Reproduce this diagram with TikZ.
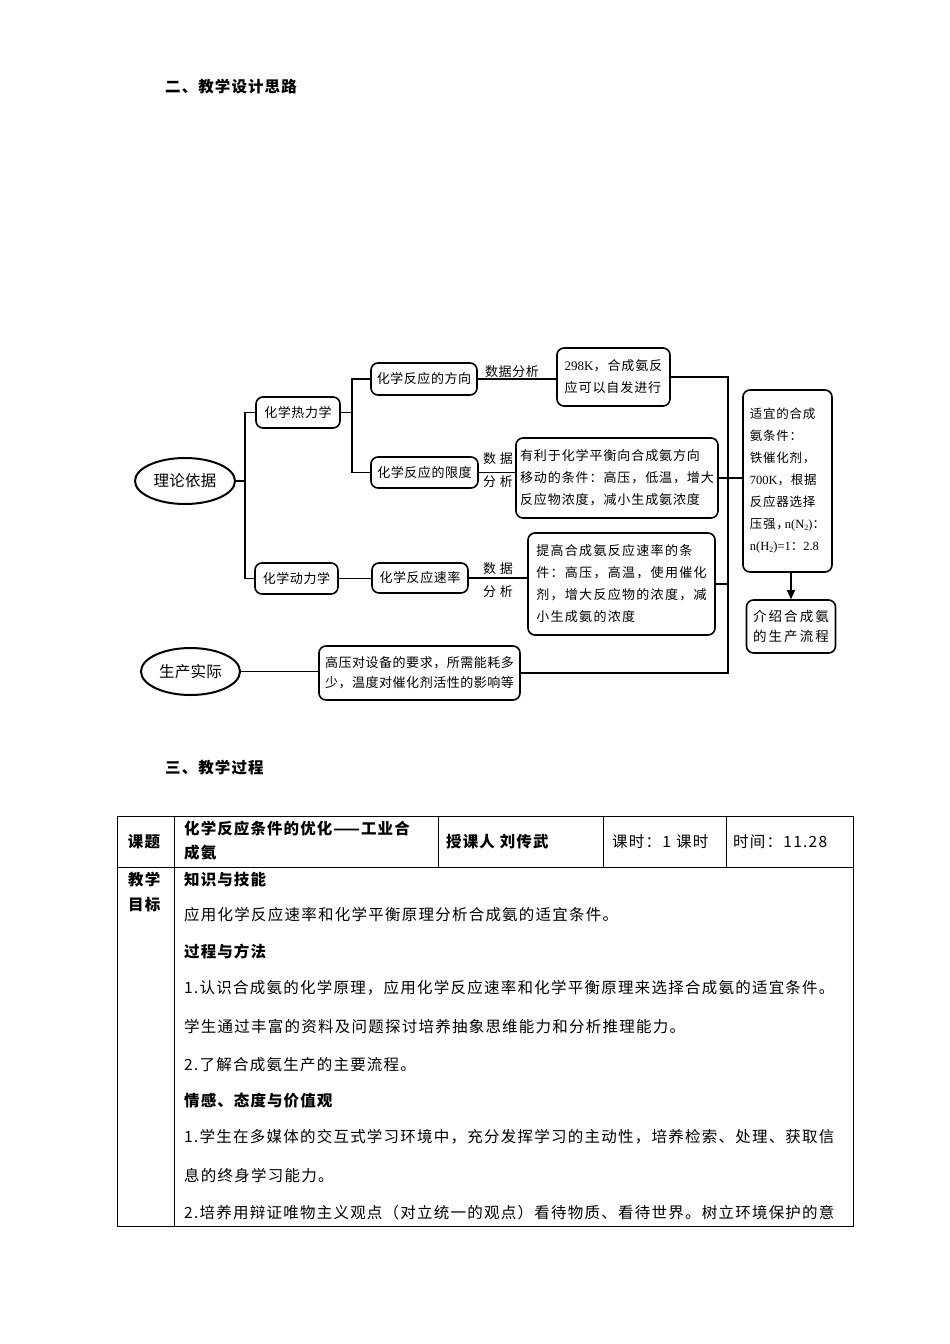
\documentclass[tikz,border=0pt]{standalone}
\usepackage{fontspec}
\newfontfamily\cjk{Noto Sans CJK SC}
\newfontfamily\lat{Liberation Serif}
\usetikzlibrary{arrows.meta,shapes.geometric}
\newcommand{\mysub}[1]{\raisebox{-0.35ex}{\fontsize{8}{8}\selectfont #1}}
\begin{document}
\begin{tikzpicture}[x=1pt,y=-1pt,
  box/.style={draw,line width=1.6pt,rounded corners=7pt,inner sep=0pt,align=left},
  oval/.style={draw,ellipse,line width=2pt,inner sep=0pt,minimum width=100pt,minimum height=46pt,
    font={\cjk\fontsize{15.5}{18}\selectfont\addfontfeature{LetterSpace=2}}},
  ttl/.style={font={\cjk\fontsize{13}{22}\selectfont\addfontfeature{LetterSpace=4}}},
  para/.style={font={\cjk\fontsize{13}{22}\selectfont\addfontfeature{LetterSpace=7}}},
  lbl/.style={inner sep=0pt,font={\cjk\fontsize{13}{22}\selectfont\addfontfeature{LetterSpace=4}}},
  tl/.style={line width=1.2pt},
  tk/.style={line width=1.8pt},
  grid/.style={line width=0.9pt},
  tb/.style={anchor=west,inner sep=0pt,font={\cjk\fontsize{15.5}{20}\selectfont\addfontfeature{LetterSpace=8}}},
  tbb/.style={anchor=west,inner sep=0pt,font={\cjk\bfseries\fontsize{15.5}{20}\selectfont\addfontfeature{LetterSpace=7}}},
  hd/.style={anchor=west,inner sep=0pt,font={\cjk\bfseries\fontsize{15.5}{20}\selectfont\addfontfeature{LetterSpace=7}}}
]
\useasboundingbox (0,0) rectangle (950,1344);
\fill[white] (0,0) rectangle (950,1344);

% headings
\node[hd] (h2) at (165,87) {二、教学设计思路};
\node[hd] (h3) at (165,768) {三、教学过程};

% ---------- diagram ----------
\node[oval] (A) at (185,481) {理论依据};
\node[oval,minimum width=99pt,minimum height=47pt] (B) at (190.5,671.5) {生产实际};

\node[box,ttl,minimum width=84pt,minimum height=31pt] (thermo) at (298,412.5) {化学热力学};
\node[box,ttl,minimum width=83pt,minimum height=31pt] (kin) at (296.5,578.5) {化学动力学};
\node[box,ttl,minimum width=106pt,minimum height=32pt] (dir) at (424,379) {化学反应的方向};
\node[box,ttl,minimum width=107pt,minimum height=31pt] (lim) at (424.5,472.5) {化学反应的限度};
\node[box,ttl,minimum width=96pt,minimum height=30pt] (rate) at (420,578) {化学反应速率};

\node[box,para,minimum width=113pt,minimum height=58pt] (b298) at (613.5,377)
  {{\lat 298K}，合成氨反\\应可以自发进行};
\node[box,para,minimum width=202pt,minimum height=80pt] (favor) at (617,478)
  {有利于化学平衡向合成氨方向\\移动的条件：高压，低温，增大\\反应物浓度，减小生成氨浓度};
\node[box,para,minimum width=187pt,minimum height=102pt,font={\cjk\fontsize{13}{22}\selectfont\addfontfeature{LetterSpace=10}}] (raise) at (621.5,584)
  {提高合成氨反应速率的条\\件：高压，高温，使用催化\\剂，增大反应物的浓度，减\\小生成氨的浓度};
\node[box,ttl,minimum width=201pt,minimum height=54pt,font={\cjk\fontsize{13}{20}\selectfont\addfontfeature{LetterSpace=4}}] (prod) at (419.5,673)
  {高压对设备的要求，所需能耗多\\少，温度对催化剂活性的影响等};
\node[box,para,minimum width=89pt,minimum height=182pt,font={\cjk\fontsize{12.5}{22}\selectfont\addfontfeature{LetterSpace=6}}] (suit) at (787.5,481)
  {适宜的合成\\氨条件：\\铁催化剂，\\{\lat 700K}，根据\\反应器选择\\压强，\kern-4pt{\lat n(N\mysub{2})}：\\{\lat n(H\mysub{2})=1}：{\lat 2.8}};
\node[box,para,minimum width=89pt,minimum height=53pt,font={\cjk\fontsize{13.5}{20}\selectfont\addfontfeature{LetterSpace=15}}] (intro) at (791,626.5)
  {介绍合成氨\\的生产流程};

% labels
\node[lbl] (l1) at (512,372) {数据分析};
\node[lbl] (l2a) at (498,459) {数\hspace{4pt}据};
\node[lbl] (l2b) at (498,482) {分\hspace{4pt}析};
\node[lbl] (l3a) at (498,569) {数\hspace{4pt}据};
\node[lbl] (l3b) at (498,592) {分\hspace{4pt}析};

% connectors
\coordinate (tx) at (245,0);
\coordinate (sx) at (352,0);
\coordinate (vx) at (728,0);
\draw[tk] (thermo.west) -- (thermo.west -| tx) -- (kin.west -| tx) -- (kin.west);
\draw[tk] (A.east) -- (A.east -| tx);
\draw[tl] (thermo.east) -- (thermo.east -| sx);
\draw[tl] (dir.west) -- (dir.west -| sx) -- (lim.west -| sx) -- (lim.west);
\draw[tl] (dir.east) -- (dir.east -| b298.west);
\draw[tl] (lim.east) -- (lim.east -| favor.west);
\draw[tl] (b298.east) -- (b298.east -| vx) -- (prod.east -| vx) -- (prod.east);
\draw[tk] (favor.east) -- (favor.east -| suit.west);
\draw[tl] (raise.east) -- (raise.east -| vx);
\draw[tl] (B.east) -- (B.east -| prod.west);
\draw[tk] (kin.east) -- (kin.east -| rate.west);
\draw[tl] (rate.east) -- (rate.east -| raise.west);
\draw[tl,-{Triangle[length=9pt,width=8pt]}] (intro.north |- suit.south) -- (intro.north);

% ---------- table ----------
\draw[grid] (117,816) rectangle (853,1226);
\draw[grid] (117,867) -- (853,867);
\draw[grid] (174,816) -- (174,1226);
\draw[grid] (438,816) -- (438,867);
\draw[grid] (603,816) -- (603,867);
\draw[grid] (726,816) -- (726,867);

\node[tbb,anchor=center] (c11) at (144,842) {课题};
\node[tbb] (c12a) at (184,829) {化学反应条件的优化——工业合};
\node[tbb] (c12b) at (184,853) {成氨};
\node[tbb] (c13) at (446,842) {授课人\hspace{5pt}刘传武};
\node[tb] (c14) at (612,842) {课时：1\hspace{5pt}课时};
\node[tb] (c15) at (733,842) {时间：11.28};

\node[tbb] (c21a) at (128,880) {教学};
\node[tbb] (c21b) at (128,905) {目标};

\node[tbb] (r1) at (184,880) {知识与技能};
\node[tb] (r2) at (184,915) {应用化学反应速率和化学平衡原理分析合成氨的适宜条件。};
\node[tbb] (r3) at (184,952) {过程与方法};
\node[tb] (r4) at (184,988) {1.认识合成氨的化学原理，应用化学反应速率和化学平衡原理来选择合成氨的适宜条件。};
\node[tb] (r5) at (184,1027) {学生通过丰富的资料及问题探讨培养抽象思维能力和分析推理能力。};
\node[tb] (r6) at (184,1065) {2.了解合成氨生产的主要流程。};
\node[tbb] (r7) at (184,1101) {情感、态度与价值观};
\node[tb] (r8) at (184,1137) {1.学生在多媒体的交互式学习环境中，充分发挥学习的主动性，培养检索、处理、获取信};
\node[tb] (r9) at (184,1176) {息的终身学习能力。};
\node[tb] (r10) at (184,1213) {2.培养用辩证唯物主义观点（对立统一的观点）看待物质、看待世界。树立环境保护的意};
\end{tikzpicture}
\end{document}
